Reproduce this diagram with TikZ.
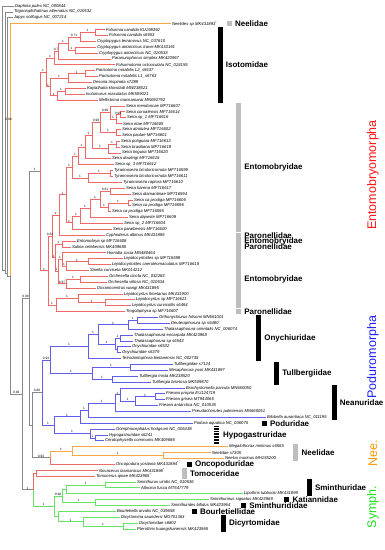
\documentclass[tikz,border=0pt]{standalone}
\usepackage{fontspec}
\setmainfont{Liberation Sans}
\usetikzlibrary{calc}
\definecolor{cgrey}{RGB}{136,136,136}
\definecolor{cred}{RGB}{240,105,105}
\definecolor{cblue}{RGB}{95,95,235}
\definecolor{corange}{RGB}{245,170,70}
\definecolor{cgreen}{RGB}{100,228,100}
\definecolor{fgrey}{RGB}{190,190,190}
\definecolor{tred}{RGB}{255,20,20}
\definecolor{tblue}{RGB}{30,30,255}
\definecolor{torange}{RGB}{255,150,0}
\definecolor{tgreen}{RGB}{30,225,30}
\newcommand\LY[1]{6+(#1-1)*5.876}
\newcommand\lf[4]{\coordinate (#1) at (#3,{\LY{#2}}); \node[lab] (#1t) at (#1) {#4};}
\newcommand\nd[4]{\path let \p1=(#3),\p2=(#4) in coordinate (#1) at ({#2pt},{0.5*(\y1+\y2)});}
\newcommand\ed[4][]{\draw[#2] (#3) |- (#4) node[bl,pos=0.75]{#1};}
\newcommand\cl[6]{\ed[#5]{#1}{#2}{#3}\ed[#6]{#1}{#2}{#4}}
\newcommand\fbar[5]{\fill[#1] (#2,{\LY{#3}-2.6}) rectangle ({#2+5},{\LY{#4}+2.6}); \node[fam] (fam#3) at ({#2+8},{(\LY{#3}+\LY{#4})/2}) {#5};}
\begin{document}
\begin{tikzpicture}[x=1pt,y=-1pt,line width=0.7pt,
  lab/.style={anchor=west,inner sep=0.7pt,font=\fontsize{4.2}{4.2}\selectfont\itshape},
  bl/.style={above,inner sep=0.2pt,font=\fontsize{3.2}{3.2}\selectfont},
  fam/.style={anchor=west,inner sep=0pt,font=\fontsize{8}{8}\selectfont\bfseries},
  clade/.style={rotate=90,inner sep=0pt,font=\fontsize{12.5}{12.5}\selectfont},
  cG/.style={draw=cgrey}, cR/.style={draw=cred}, cB/.style={draw=cblue},
  cO/.style={draw=corange}, cY/.style={draw=cgreen}]
\fill[white] (0,0) rectangle (384,550);
\useasboundingbox (0,0) rectangle (384,550);
% leaves
\lf{L1}{1}{14}{Daphnia pulex NC\_000844}
\lf{L2}{2}{13}{Trigoniophthalmus alternatus NC\_010532}
\lf{L3}{3}{13}{Japyx solifugus NC\_007214}
\lf{L4}{4}{171}{Neelides sp MK431893\textsuperscript{*}}
\lf{L5}{5}{105}{Folsomia candida KU198392}
\lf{L6}{6}{108}{Folsomia candida s6653}
\lf{L7}{7}{96}{Cryptopygus terranovus NC\_037610}
\lf{L8}{8}{96}{Cryptopygus antarcticus travei MK433191}
\lf{L9}{9}{98}{Cryptopygus antarcticus NC\_010533}
\lf{L10}{10}{111}{Paranurophorus simplex MK423967}
\lf{L11}{11}{115}{Folsomotoma octooculata NC\_024155}
\lf{L12}{12}{95}{Parisotoma notabilis L2\_s5537}
\lf{L13}{13}{98}{Parisotoma notabilis L1\_s6763}
\lf{L14}{14}{92}{Desoria trispinata s7289}
\lf{L15}{15}{86}{Kaylathalia klovstadi MW238521}
\lf{L16}{16}{85}{Isotomurus maculatus MK509021}
\lf{L17}{17}{98}{Mellistoma macnamarai MN092792}
\lf{L18}{18}{125}{Seira mendoncae MF716607}
\lf{L19}{19}{125}{Seira coroatensis MF716614}
\lf{L20}{20}{126}{Seira sp\_1 MF716616}
\lf{L21}{21}{122}{Seira ritae MF716605}
\lf{L22}{22}{121}{Seira atrolutea MF716602}
\lf{L23}{23}{121}{Seira paulae MF716601}
\lf{L24}{24}{120}{Seira potiguara MF716613}
\lf{L25}{25}{120}{Seira brasiliana MF716619}
\lf{L26}{26}{121}{Seira tinguira MF716620}
\lf{L27}{27}{111}{Seira dowlingi MF716615}
\lf{L28}{28}{114}{Seira sp\_3 MF716612}
\lf{L29}{29}{113}{Tyrannoseira bicoloricornuta MF716599}
\lf{L30}{30}{113}{Tyrannoseira bicoloricornuta MF716611}
\lf{L31}{31}{122}{Tyrannoseira raptora MF716610}
\lf{L32}{32}{125}{Seira harena MF716617}
\lf{L33}{33}{131}{Seira diamantinae MF716594}
\lf{L34}{34}{133}{Seira ca prodiga MF716606}
\lf{L35}{35}{131}{Seira ca prodiga MF716596}
\lf{L36}{36}{111}{Seira ca prodiga MF716595}
\lf{L37}{37}{128}{Seira dapeste MF716609}
\lf{L38}{38}{123}{Seira sp\_2 MF716604}
\lf{L39}{39}{112}{Seira paraibensis MF716600}
\lf{L40}{40}{105}{Cyphoderus albinus MK431896}
\lf{L41}{41}{76}{Entomobrya sp MF716608}
\lf{L42}{42}{71}{Salina celebensis MK409685}
\lf{L43}{43}{106}{Homidia socia MN480464}
\lf{L44}{44}{123}{Lepidocyrtoides sp MF716598}
\lf{L45}{45}{111}{Lepidocyrtoides caeruleomaculatus MF716618}
\lf{L46}{46}{89}{Sinella curviseta MK014212}
\lf{L47}{47}{108}{Orchesella cincta NC\_032283}
\lf{L48}{48}{107}{Orchesella villosa NC\_010534}
\lf{L49}{49}{96}{Dicranocentrus wangi MK431895}
\lf{L50}{50}{123}{Lepidocyrtus fimetarius MK431900}
\lf{L51}{51}{135}{Lepidocyrtus sp MF716621}
\lf{L52}{52}{131}{Lepidocyrtus curvicollis s6464}
\lf{L53}{53}{125}{Trogolaphysa sp MF716607}
\lf{L54}{54}{158}{Orthonychiurus folsomi MN661001}
\lf{L55}{55}{170}{Deuteraphorura sp s6480}
\lf{L56}{56}{163}{Thalassaphorura orientalis NC\_006074}
\lf{L57}{57}{133}{Thalassaphorura encarpata MK423968}
\lf{L58}{58}{133}{Thalassaphorura sp s6543}
\lf{L59}{59}{131}{Onychiuridae s6532}
\lf{L60}{60}{121}{Onychiuridae s6379}
\lf{L61}{61}{121}{Tetrodontophora bielanensis NC\_002735}
\lf{L62}{62}{173}{Tullbergiidae s7124}
\lf{L63}{63}{168}{Mesaphorura yosii MK431897}
\lf{L64}{64}{138}{Tullbergia mixta MK238520}
\lf{L65}{65}{151}{Tullbergia bisetosa MK509870}
\lf{L66}{66}{185}{Brachystomella parvula MN660050}
\lf{L67}{67}{165}{Friesea propria EU124719}
\lf{L68}{68}{165}{Friesea grisea MT944065}
\lf{L69}{69}{158}{Friesea antarctica NC\_010535}
\lf{L70}{70}{191}{Pseudachorutes palmiensis MN660051}
\lf{L71}{71}{266}{Bilobella aurantiaca NC\_011195}
\lf{L72}{72}{193}{Podura aquatica NC\_006075}
\lf{L73}{73}{115}{Gomphiocephalus hodgsoni NC\_005438}
\lf{L74}{74}{108}{Hypogastruridae s6241}
\lf{L75}{75}{104}{Ceratophysella communis MK409686}
\lf{L76}{76}{228}{Megalothorax minimus s6565}
\lf{L77}{77}{211}{Neelidae s7305}
\lf{L78}{78}{224}{Neelus murinus MH155200}
\lf{L79}{79}{115}{Oncopodura yosiiana MK431894\textsuperscript{*}}
\lf{L80}{80}{98}{Novacerus tasmanicus MK431898\textsuperscript{*}}
\lf{L81}{81}{95}{Tomocerus qinae MK423965\textsuperscript{*}}
\lf{L82}{82}{136}{Sminthurus viridis NC\_010536}
\lf{L83}{83}{140}{Allacma fusca MT547779}
\lf{L84}{84}{243}{Lipothrix lubbocki MK431899}
\lf{L85}{85}{209}{Sminthurinus signatus MK423969}
\lf{L86}{86}{170}{Sminthurides bifidus MK423964}
\lf{L87}{87}{116}{Bourletiella arvalis NC\_039558}
\lf{L88}{88}{120}{Dicyrtomina saundersi MG701363}
\lf{L89}{89}{138}{Dicyrtomidae s6802}
\lf{L90}{90}{136}{Pterothrix huangshanensis MK423965}
% internal nodes: Isotomidae
\nd{F}{95}{L5}{L6}
\nd{Cb}{75}{L8}{L9}
\nd{X}{80}{F}{L7}
\nd{FC}{68}{X}{Cb}
\nd{P1}{58}{FC}{L10}
\nd{P2}{54}{P1}{L11}
\nd{Pn}{85}{L12}{L13}
\nd{PD}{68}{Pn}{L14}
\nd{KI}{65}{L15}{L16}
\nd{KM}{57}{KI}{L17}
\nd{Q}{50}{PD}{KM}
\nd{ISO}{46}{P2}{Q}
% Entomobryoidea
\nd{A1}{120}{L19}{L20}
\nd{A2}{116}{A1}{L21}
\nd{A3}{110}{L18}{A2}
\nd{B1}{116}{L22}{L23}
\nd{AB}{100}{A3}{B1}
\nd{C1}{116}{L24}{L25}
\nd{C2}{108}{C1}{L26}
\nd{ABC}{92}{AB}{C2}
\nd{D1}{85}{ABC}{L27}
\nd{D2}{78}{D1}{L28}
\nd{T1}{110}{L29}{L30}
\nd{T2}{88}{T1}{L31}
\nd{SU}{72}{D2}{T2}
\nd{H1}{110}{L32}{L33}
\nd{PA}{128}{L34}{L35}
\nd{PB}{108}{PA}{L36}
\nd{PC}{100}{H1}{PB}
\nd{PDD}{90}{PC}{L37}
\nd{PE}{80}{PDD}{L38}
\nd{PF}{72}{PE}{L39}
\nd{SE}{66}{SU}{PF}
\nd{CY}{59}{SE}{L40}
\nd{E1}{62}{L41}{L42}
\nd{LP}{88}{L44}{L45}
\nd{LS}{66}{LP}{L46}
\nd{HL}{62}{L43}{LS}
\nd{O1}{80}{L47}{L48}
\nd{O2}{66}{O1}{L49}
\nd{HO}{58}{HL}{O2}
\nd{EHO}{55}{E1}{HO}
\nd{UP}{52}{CY}{EHO}
\nd{LE1}{105}{L51}{L52}
\nd{LE2}{78}{L50}{LE1}
\nd{LE3}{56}{LE2}{L53}
\nd{ENTOM}{48}{UP}{LE3}
\nd{ENT}{40}{ISO}{ENTOM}
% Poduromorpha
\nd{O1p}{137}{L54}{L55}
\nd{O2p}{128}{O1p}{L56}
\nd{O3p}{120}{L57}{L58}
\nd{O4p}{117}{L59}{L60}
\nd{O5p}{115}{O3p}{O4p}
\nd{O6p}{98}{O2p}{O5p}
\nd{OTa}{88}{O6p}{L61}
\nd{TB1}{130}{L62}{L63}
\nd{TB2}{112}{L64}{L65}
\nd{TB3}{92}{TB1}{TB2}
\nd{OT}{50}{OTa}{TB3}
\nd{N1}{155}{L67}{L68}
\nd{N2}{135}{N1}{L69}
\nd{N3}{120}{L66}{N2}
\nd{N4}{115}{N3}{L70}
\nd{N5}{88}{N4}{L71}
\nd{NP}{80}{N5}{L72}
\nd{H1p}{95}{L74}{L75}
\nd{H2p}{90}{L73}{H1p}
\nd{NPH}{54}{NP}{H2p}
\nd{PODU}{42}{OT}{NPH}
% Neelidae, backbone, Symphypleona
\nd{Ne1}{163}{L77}{L78}
\nd{NEEL}{72}{L76}{Ne1}
\nd{NO}{50}{NEEL}{L79}
\nd{PPOD}{32}{PODU}{NO}
\nd{PENT}{29}{ENT}{PPOD}
\nd{SY1}{105}{L82}{L83}
\nd{SM}{66}{SY1}{L84}
\nd{SS2}{95}{L85}{L86}
\nd{SA}{62}{SM}{SS2}
\nd{D2b}{123}{L89}{L90}
\nd{D1b}{83}{L88}{D2b}
\nd{SB}{58}{L87}{D1b}
\nd{SYR}{54}{SA}{SB}
\nd{TM}{36}{L80}{L81}
\nd{TS}{33}{TM}{SYR}
\nd{C3}{22}{PENT}{TS}
% outgroup backbone: nodes at the mean of their descendant tips
\coordinate (COL) at (10.5,276.3);
\coordinate (R2) at (7.5,273.4);
\coordinate (R1) at (5,270.4);
\coordinate (R0) at (2.5,267.5);
% edges: backbone
\cl{cG}{R0}{L1}{R1}{}{}
\cl{cG}{R1}{L2}{R2}{}{}
\cl{cG}{R2}{L3}{COL}{}{}
\ed{cO}{COL}{L4}
\ed[0.96]{cG}{COL}{C3}
\node[bl] (lb099) at (8.5,121) {0.99};
\cl{cG}{C3}{PENT}{TS}{0.99}{1}
\cl{cG}{PENT}{ENT}{PPOD}{1}{}
\cl{cG}{PPOD}{PODU}{NO}{0.88}{0.93}
\cl{cR}{ENT}{ISO}{ENTOM}{1}{1}
% Isotomidae
\cl{cR}{F}{L5}{L6}{}{}
\cl{cR}{Cb}{L8}{L9}{}{}
\cl{cR}{X}{F}{L7}{1}{}
\cl{cR}{FC}{X}{Cb}{0.71}{1}
\cl{cR}{P1}{FC}{L10}{1}{}
\cl{cR}{P2}{P1}{L11}{0.7}{}
\cl{cR}{Pn}{L12}{L13}{}{}
\cl{cR}{PD}{Pn}{L14}{1}{}
\cl{cR}{KI}{L15}{L16}{}{}
\cl{cR}{KM}{KI}{L17}{1}{}
\cl{cR}{Q}{PD}{KM}{1}{1}
\cl{cR}{ISO}{P2}{Q}{1}{1}
% Entomobryoidea
\cl{cR}{A1}{L19}{L20}{}{}
\cl{cR}{A2}{A1}{L21}{0.99}{}
\cl{cR}{A3}{L18}{A2}{}{1}
\cl{cR}{B1}{L22}{L23}{}{}
\cl{cR}{AB}{A3}{B1}{0.99}{1}
\cl{cR}{C1}{L24}{L25}{}{}
\cl{cR}{C2}{C1}{L26}{1}{}
\cl{cR}{ABC}{AB}{C2}{0.99}{1}
\cl{cR}{D1}{ABC}{L27}{1}{}
\cl{cR}{D2}{D1}{L28}{1}{}
\cl{cR}{T1}{L29}{L30}{}{}
\cl{cR}{T2}{T1}{L31}{1}{}
\cl{cR}{SU}{D2}{T2}{1}{1}
\cl{cR}{H1}{L32}{L33}{}{}
\cl{cR}{PA}{L34}{L35}{}{}
\cl{cR}{PB}{PA}{L36}{1}{}
\cl{cR}{PC}{H1}{PB}{0.61}{1}
\cl{cR}{PDD}{PC}{L37}{1}{}
\cl{cR}{PE}{PDD}{L38}{1}{}
\cl{cR}{PF}{PE}{L39}{1}{}
\cl{cR}{SE}{SU}{PF}{1}{1}
\cl{cR}{CY}{SE}{L40}{1}{}
\cl{cR}{E1}{L41}{L42}{}{}
\cl{cR}{LP}{L44}{L45}{}{}
\cl{cR}{LS}{LP}{L46}{1}{}
\cl{cR}{HL}{L43}{LS}{}{1}
\cl{cR}{O1}{L47}{L48}{}{}
\cl{cR}{O2}{O1}{L49}{1}{}
\cl{cR}{HO}{HL}{O2}{1}{0.97}
\cl{cR}{EHO}{E1}{HO}{1}{1}
\cl{cR}{UP}{CY}{EHO}{1}{1}
\cl{cR}{LE1}{L51}{L52}{}{}
\cl{cR}{LE2}{L50}{LE1}{}{1}
\cl{cR}{LE3}{LE2}{L53}{1}{}
\cl{cR}{ENTOM}{UP}{LE3}{0.62}{1}
% Poduromorpha
\cl{cB}{O1p}{L54}{L55}{}{}
\cl{cB}{O2p}{O1p}{L56}{1}{}
\cl{cB}{O3p}{L57}{L58}{}{}
\cl{cB}{O4p}{L59}{L60}{}{}
\cl{cB}{O5p}{O3p}{O4p}{1}{}
\cl{cB}{O6p}{O2p}{O5p}{1}{1}
\cl{cB}{OTa}{O6p}{L61}{1}{}
\cl{cB}{TB1}{L62}{L63}{}{}
\cl{cB}{TB2}{L64}{L65}{}{}
\cl{cB}{TB3}{TB1}{TB2}{1}{1}
\cl{cB}{OT}{OTa}{TB3}{1}{1}
\cl{cB}{N1}{L67}{L68}{}{}
\cl{cB}{N2}{N1}{L69}{1}{}
\cl{cB}{N3}{L66}{N2}{}{1}
\cl{cB}{N4}{N3}{L70}{1}{}
\cl{cB}{N5}{N4}{L71}{1}{}
\cl{cB}{NP}{N5}{L72}{1}{}
\cl{cB}{H1p}{L74}{L75}{}{}
\cl{cB}{H2p}{L73}{H1p}{}{1}
\cl{cB}{NPH}{NP}{H2p}{1}{1}
\cl{cB}{PODU}{OT}{NPH}{0.93}{1}
% Neelidae and Oncopodura
\cl{cO}{Ne1}{L77}{L78}{}{}
\cl{cO}{NEEL}{L76}{Ne1}{}{1}
\ed[1]{cO}{NO}{NEEL}
\ed{cR}{NO}{L79}
% Tomoceridae, Symphypleona
\cl{cR}{TM}{L80}{L81}{}{}
\ed{cR}{TS}{TM}
\ed[1]{cY}{TS}{SYR}
\cl{cY}{SY1}{L82}{L83}{}{}
\cl{cY}{SM}{SY1}{L84}{1}{}
\cl{cY}{SS2}{L85}{L86}{}{}
\cl{cY}{SA}{SM}{SS2}{}{1}
\cl{cY}{D2b}{L89}{L90}{}{}
\cl{cY}{D1b}{L88}{D2b}{}{1}
\cl{cY}{SB}{L87}{D1b}{}{1}
\cl{cY}{SYR}{SA}{SB}{0.98}{}
% family bars
\fbar{fgrey}{226.7}{4}{4}{Neelidae}
\fbar{black}{217.5}{5}{17}{Isotomidae}
\fbar{fgrey}{236}{18}{39}{Entomobryidae}
\fbar{fgrey}{236}{40}{40}{Paronellidae}
\fbar{fgrey}{236}{41}{41}{Entomobryidae}
\fbar{fgrey}{236}{42}{42}{Paronellidae}
\fbar{fgrey}{236}{43}{52}{Entomobryidae}
\fbar{fgrey}{236}{53}{53}{Paronellidae}
\fbar{black}{256}{54}{61}{Onychiuridae}
\fbar{black}{274}{62}{65}{Tullbergiidae}
\fbar{black}{331.5}{66}{71}{Neanuridae}
\fbar{black}{261.7}{72}{72}{Poduridae}
\foreach \k in {0,...,11} \draw[line width=0.5pt] (214,{426.6+\k*1.55}) -- (218.7,{426.6+\k*1.55});
\node[fam] (famHy) at (222.7,{(\LY{73}+\LY{75})/2}) {Hypogastruridae};
\fbar{fgrey}{293.3}{76}{78}{Neelidae}
\fbar{black}{186.7}{79}{79}{Oncopoduridae}
\fbar{fgrey}{181.7}{80}{81}{Tomoceridae}
\fbar{black}{306.7}{82}{84}{Sminthuridae}
\fbar{black}{284.3}{85}{85}{Katiannidae}
\fbar{black}{241}{86}{86}{Sminthurididae}
\fbar{black}{191.7}{87}{87}{Bourletiellidae}
\fbar{black}{220.7}{88}{90}{Dicyrtomidae}
% clade labels
\node[clade,text=tred] (cEnt) at (373,175) {Entomobryomorpha};
\node[clade,text=tblue] (cPod) at (373,357) {Poduromorpha};
\node[clade,text=torange] (cNee) at (373,453) {Nee.};
\node[clade,text=tgreen] (cSym) at (373,507) {Symph.};
\end{tikzpicture}
\end{document}
